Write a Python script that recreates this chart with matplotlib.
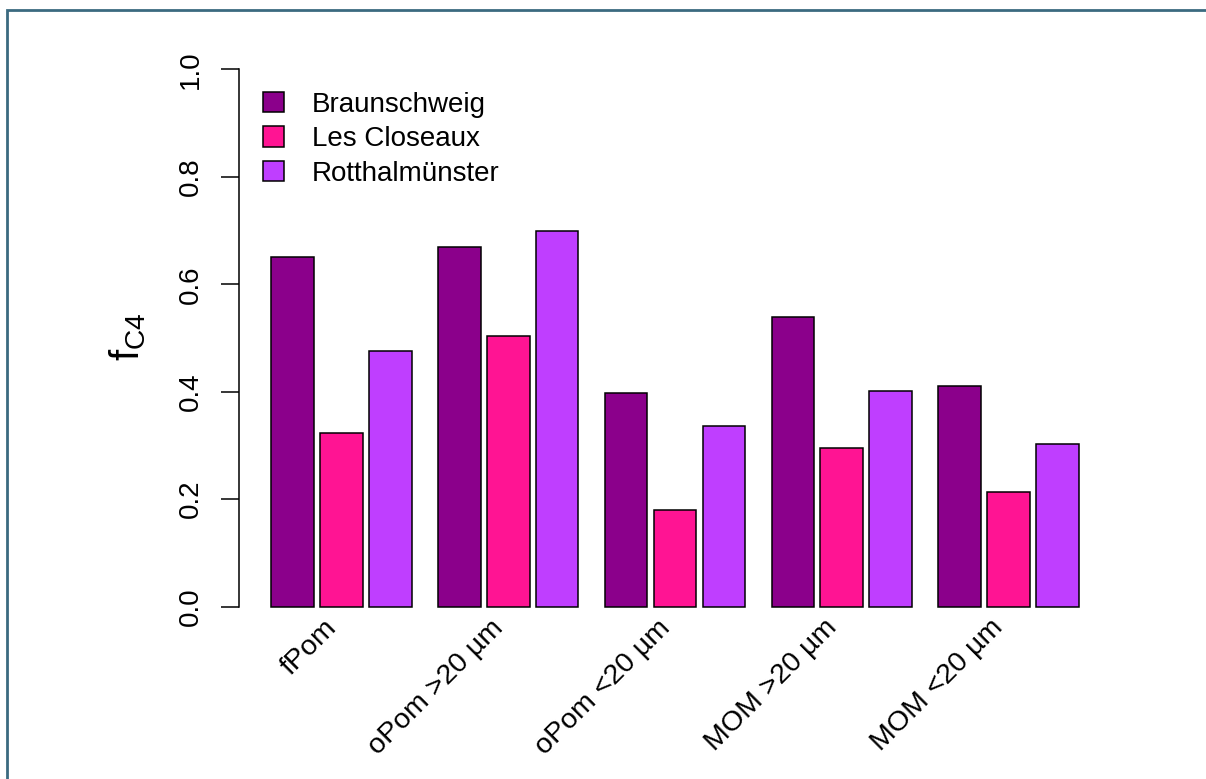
import matplotlib
matplotlib.use("Agg")
import matplotlib.pyplot as plt
from matplotlib.patches import Rectangle
from matplotlib.transforms import ScaledTranslation

plt.rcParams['font.family'] = ['Liberation Sans', 'DejaVu Sans']
plt.rcParams['mathtext.default'] = 'regular'

# data
fractions = ['fPom', 'oPom >20 µm', 'oPom <20 µm', 'MOM >20 µm', 'MOM <20 µm']
sites = ['Braunschweig', 'Les Closeaux', 'Rotthalmünster']
braunschweig = [0.650, 0.669, 0.398, 0.540, 0.411]
les_closeaux = [0.324, 0.504, 0.180, 0.296, 0.214]
rotthalmuenster = [0.476, 0.699, 0.336, 0.401, 0.303]
colors = ['#8B008B', '#FF1493', '#BF3EFF']
yticks = [0.0, 0.2, 0.4, 0.6, 0.8, 1.0]

W, H = 1206, 779
fig = plt.figure(figsize=(W / 100, H / 100), dpi=100)
ax = fig.add_axes([239 / W, (H - 628) / H, (1111 - 239) / W, (628 - 48) / H])

bar_w = 1.0
in_pitch = 1.15     # bar to bar inside a group
grp_pitch = 3.92    # group to group

series = [braunschweig, les_closeaux, rotthalmuenster]
bars = []
for i, (vals, col, name) in enumerate(zip(series, colors, sites)):
    xs = [g * grp_pitch + i * in_pitch for g in range(len(fractions))]
    b = ax.bar(xs, vals, width=bar_w, align='edge', color=col,
               edgecolor='black', linewidth=1.1, label=name)
    bars.append(b)

span = (len(fractions) - 1) * grp_pitch + 2 * in_pitch + bar_w
ax.set_xlim(-0.04 * span, span * 1.04)
ax.set_ylim(-0.04, 1.04)

for s in ['top', 'right', 'bottom']:
    ax.spines[s].set_visible(False)
ax.spines['left'].set_bounds(0, 1)
ax.spines['left'].set_linewidth(1.1)

ax.set_yticks(yticks)
ax.set_yticklabels(['%.1f' % v for v in yticks])
ax.tick_params(axis='y', length=13, width=1.1, labelsize=20, pad=12,
               labelrotation=90)
for lab in ax.get_yticklabels():
    lab.set_va('center')

centers = [g * grp_pitch + (2 * in_pitch + bar_w) / 2 for g in range(len(fractions))]
ax.set_xticks(centers)
ax.set_xticklabels(fractions, rotation=45, ha='right', va='center',
                   rotation_mode='anchor', fontsize=20.5)
ax.tick_params(axis='x', length=0, pad=0)
shift = ScaledTranslation(-9 / 100, 4 / 100, fig.dpi_scale_trans)
for lab in ax.get_xticklabels():
    lab.set_transform(lab.get_transform() + shift)

fig.text(128 / W, 1 - 337 / H, r'$f_{C4}$', rotation=90, ha='center',
         va='center', fontsize=29)

ax.legend(handles=bars, loc='upper left', bbox_to_anchor=(263 / W, 1 - 92 / H),
          bbox_transform=fig.transFigure, frameon=False, fontsize=20,
          handlelength=0.75, handleheight=0.75, handletextpad=1.0,
          labelspacing=0.3, borderpad=0, borderaxespad=0)

# frame around the figure
fig.add_artist(Rectangle((7 / W, -0.1), 1.2, (H - 10) / H + 0.1,
                         transform=fig.transFigure, fill=False,
                         edgecolor='#3B6A80', linewidth=2))

fig.savefig('out.png', dpi=100)
